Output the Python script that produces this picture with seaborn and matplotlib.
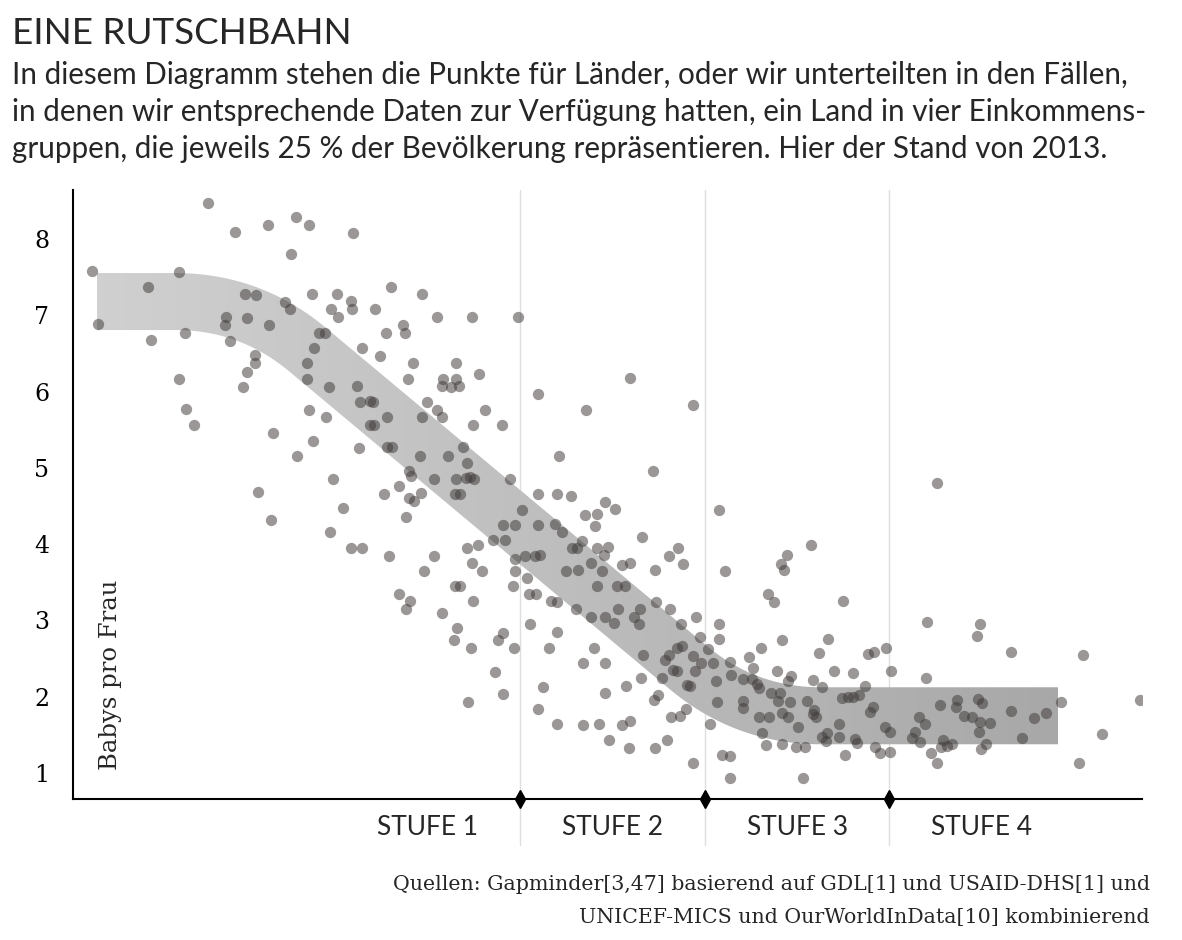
import numpy as np
import pandas as pd
import matplotlib
matplotlib.use("Agg")
import matplotlib.pyplot as plt
import seaborn as sns
from matplotlib.patches import Polygon
from matplotlib.colors import LinearSegmentedColormap

# Einkommensindex (0 = linker Achsenrand, 106.9 = rechter Rand) und Babys pro Frau
x_stufe1 = [13.5, 16.2, 19.5, 22.3, 21.8, 1.9, 10.6, 7.5, 17.2, 18.3, 21.2, 21.7, 15.3, 15.2, 17.4, 19.6,
            2.5, 7.8, 11.2, 15.7, 18.2, 18.2, 17.4, 17.0, 10.6, 11.3, 12.1, 20.0, 22.4, 18.5, 19.8,
            23.6, 28.0, 23.9, 26.4, 27.8, 25.8, 27.9, 26.5, 30.2, 31.8, 34.9, 36.4, 39.9, 44.5, 33.0,
            33.2, 31.3, 24.6, 25.2, 24.1, 28.9, 30.7, 34.0, 38.3, 40.6, 23.4, 23.4, 25.6, 28.4, 33.5,
            37.0, 38.3, 36.9, 37.8, 38.6, 28.7, 29.7, 30.0, 35.4, 36.4, 36.9, 41.2, 23.6, 25.3, 31.4,
            34.9, 29.7, 30.1, 40.0, 42.9, 24.0, 28.6, 31.4, 31.9, 34.7, 37.5, 39.0, 39.4, 33.6, 33.8,
            36.1, 38.3, 39.3, 39.7, 40.1, 43.7, 26.0, 32.6, 31.1, 33.6, 34.1, 34.8, 38.2, 38.7, 27.0,
            33.3, 25.7, 27.8, 28.9, 31.6, 36.1, 35.1, 43.0, 44.2, 42.0, 43.2, 39.4, 40.5, 39.9, 40.9,
            44.2, 44.2, 44.0, 38.2, 38.7, 32.6, 33.7, 33.3, 40.0, 36.9, 38.4, 38.1, 39.8, 43.0, 42.5,
            44.1, 42.2, 43.0, 39.5]
y_stufe1 = [8.47, 8.09, 8.18, 8.29, 7.80, 7.58, 7.57, 7.37, 7.28, 7.27, 7.17, 7.08, 6.98, 6.87, 6.96, 6.87,
            6.88, 6.67, 6.77, 6.66, 6.48, 6.37, 6.26, 6.06, 6.16, 5.77, 5.56, 5.46, 5.15, 4.68, 4.32,
            8.18, 8.08, 7.28, 7.28, 7.19, 7.08, 7.08, 6.98, 7.08, 7.37, 7.28, 6.98, 6.98, 6.98, 6.87,
            6.77, 6.77, 6.77, 6.77, 6.57, 6.57, 6.47, 6.37, 6.37, 6.23, 6.37, 6.16, 6.06, 6.07, 6.16,
            6.16, 6.16, 6.07, 6.06, 6.07, 5.86, 5.88, 5.86, 5.86, 5.76, 5.67, 5.76, 5.76, 5.67, 5.67,
            5.67, 5.56, 5.56, 5.56, 5.56, 5.35, 5.26, 5.27, 5.27, 5.15, 5.15, 5.27, 5.06, 4.96, 4.89,
            4.85, 4.85, 4.87, 4.88, 4.85, 4.85, 4.85, 4.76, 4.66, 4.61, 4.57, 4.67, 4.66, 4.66, 4.47,
            4.36, 4.16, 3.95, 3.95, 3.84, 3.84, 3.65, 4.25, 4.25, 4.05, 4.05, 3.95, 3.99, 3.75, 3.65,
            3.80, 3.65, 3.45, 3.45, 3.45, 3.35, 3.25, 3.15, 3.25, 3.10, 2.90, 2.74, 2.64, 2.83, 2.74,
            2.64, 2.32, 2.04, 1.93]

x_stufe2 = [46.5, 55.7, 51.3, 62.0, 48.6, 58.0, 46.5, 48.4, 49.8, 53.2, 54.2, 44.9, 51.2, 52.4, 52.2,
            46.5, 48.2, 48.9, 50.9, 56.9, 49.9, 50.4, 52.4, 53.5, 53.1, 45.2, 46.2, 46.7, 59.6, 60.5,
            61.0, 51.8, 49.3, 50.5, 52.9, 54.9, 55.7, 58.2, 45.4, 52.4, 54.4, 55.2, 45.6, 46.3, 47.8,
            48.4, 58.3, 59.7, 50.3, 51.8, 53.2, 54.5, 54.1, 56.1, 56.7, 56.6, 60.8, 62.3, 62.7, 45.7,
            48.4, 47.6, 52.1, 51.0, 53.2, 57.0, 59.2, 59.6, 60.4, 60.9, 62.0, 62.8, 62.2, 60.0, 60.4,
            56.8, 58.9, 61.4, 61.7, 47.0, 55.3, 53.2, 58.5, 58.1, 46.5, 61.3, 59.8, 60.7, 48.4, 51.0,
            52.6, 54.9, 55.7, 53.6, 55.6, 58.2, 59.4, 62.0]
y_stufe2 = [5.97, 6.18, 5.76, 5.82, 5.15, 4.96, 4.66, 4.66, 4.63, 4.55, 4.46, 4.45, 4.38, 4.39, 4.24,
            4.25, 4.26, 4.16, 4.04, 4.09, 3.95, 3.95, 3.95, 3.96, 3.86, 3.84, 3.84, 3.86, 3.84, 3.95,
            3.74, 3.75, 3.65, 3.66, 3.65, 3.73, 3.75, 3.66, 3.56, 3.45, 3.45, 3.45, 3.35, 3.35, 3.25,
            3.24, 3.24, 3.15, 3.15, 3.04, 3.04, 3.15, 2.97, 3.04, 3.15, 2.95, 2.95, 3.04, 2.78, 2.95,
            2.85, 2.64, 2.64, 2.44, 2.44, 2.55, 2.48, 2.55, 2.64, 2.66, 2.53, 2.44, 2.34, 2.35, 2.34,
            2.25, 2.25, 2.15, 2.14, 2.13, 2.14, 2.05, 2.02, 1.96, 1.84, 1.84, 1.73, 1.75, 1.64, 1.63,
            1.64, 1.63, 1.68, 1.43, 1.33, 1.33, 1.43, 1.13]

x_stufe3 = [64.6, 73.8, 71.4, 70.8, 71.1, 65.2, 69.5, 70.1, 77.0, 64.6, 64.6, 63.5, 68.8, 70.9, 75.5,
            74.6, 79.5, 80.1, 81.3, 64.0, 65.7, 67.6, 68.0, 65.8, 70.4, 71.8, 71.5, 76.1, 78.0, 64.3,
            67.0, 67.9, 68.4, 68.6, 74.0, 74.9, 79.2, 69.8, 70.7, 70.5, 71.7, 73.4, 76.9, 77.5, 78.0,
            78.6, 64.4, 67.0, 67.0, 80.0, 79.7, 74.1, 74.0, 74.3, 70.9, 71.5, 68.6, 69.6, 72.5, 76.6,
            63.7, 68.9, 75.4, 74.9, 76.6, 78.2, 78.4, 81.2, 69.3, 70.9, 72.3, 73.2, 75.3, 80.2, 80.7,
            64.9, 65.7, 65.7, 73.0, 77.2]
y_stufe3 = [4.45, 3.99, 3.86, 3.74, 3.66, 3.65, 3.35, 3.24, 3.25, 2.95, 2.76, 2.62, 2.64, 2.74, 2.76,
            2.57, 2.56, 2.59, 2.64, 2.44, 2.45, 2.52, 2.38, 2.28, 2.34, 2.27, 2.21, 2.34, 2.31, 2.21,
            2.23, 2.23, 2.17, 2.11, 2.22, 2.13, 2.14, 2.05, 2.05, 1.94, 1.93, 1.94, 1.98, 1.99, 1.99,
            2.02, 1.93, 1.94, 1.85, 1.87, 1.80, 1.83, 1.77, 1.73, 1.79, 1.73, 1.73, 1.73, 1.60, 1.64,
            1.64, 1.52, 1.52, 1.47, 1.47, 1.45, 1.39, 1.60, 1.37, 1.38, 1.34, 1.34, 1.42, 1.34, 1.26,
            1.24, 1.22, 0.93, 0.93, 1.24]

x_stufe4 = [81.7, 81.7, 81.8, 86.4, 85.4, 90.7, 90.4, 93.8, 101.0, 85.3, 98.8, 106.7, 86.7, 88.4, 88.3,
            90.5, 90.9, 93.8, 97.3, 96.1, 84.6, 85.2, 89.1, 89.9, 90.7, 91.7, 90.6, 84.2, 83.9, 84.7,
            87.0, 87.9, 87.4, 86.8, 91.3, 90.8, 94.9, 102.9, 85.8, 86.4, 100.6]
y_stufe4 = [1.54, 1.28, 2.34, 4.80, 2.98, 2.95, 2.80, 2.59, 2.55, 2.25, 1.93, 1.96, 1.89, 1.96, 1.87,
            1.97, 1.92, 1.81, 1.79, 1.72, 1.73, 1.64, 1.75, 1.73, 1.67, 1.66, 1.54, 1.54, 1.46, 1.41,
            1.43, 1.38, 1.35, 1.34, 1.38, 1.31, 1.46, 1.51, 1.26, 1.13, 1.13]

stufen_grenzen = [44.7, 63.2, 81.6]
stufen_namen = ["STUFE 1", "STUFE 2", "STUFE 3", "STUFE 4"]
y_ticks = [1, 2, 3, 4, 5, 6, 7, 8]

# Knotenpunkte der Rutschbahn (Mittellinie)
band_x = [2.4, 17.7, 67.3, 98.5]
band_y = [7.18, 7.18, 1.75, 1.75]

x_lim = (0, 106.9)
y_lim = (0.659, 8.642)

df = pd.DataFrame({
    "einkommen": x_stufe1 + x_stufe2 + x_stufe3 + x_stufe4,
    "babys": y_stufe1 + y_stufe2 + y_stufe3 + y_stufe4,
})

sns.set_style("white")
plt.rcParams["font.family"] = ["DejaVu Serif"]
sans = ["Lato", "DejaVu Sans"]

fig = plt.figure(figsize=(11.82, 9.40), dpi=100)
ax = fig.add_axes([73 / 1182, 141 / 940, 1069 / 1182, 609 / 940])
ax.set_xlim(*x_lim)
ax.set_ylim(*y_lim)


def rutschbahn_umriss(ax, xs, ys, halbe_breite=28.5, radius=75):
    # Mittellinie in Pixeln, Ecken mit Bezierkurven abrunden, dann seitlich versetzen
    p = ax.transData.transform(np.column_stack([xs, ys]))
    kurve = [p[0]]
    t = np.linspace(0, 1, 40)[:, None]
    for i in range(1, len(p) - 1):
        a, b, c = p[i - 1], p[i], p[i + 1]
        d1 = (b - a) / np.linalg.norm(b - a)
        d2 = (c - b) / np.linalg.norm(c - b)
        s, e = b - d1 * radius, b + d2 * radius
        kurve.extend((1 - t) ** 2 * s + 2 * (1 - t) * t * b + t ** 2 * e)
    kurve.append(p[-1])
    kurve = np.array(kurve)
    tang = np.gradient(kurve, axis=0)
    tang /= np.linalg.norm(tang, axis=1)[:, None]
    norm = np.column_stack([-tang[:, 1], tang[:, 0]])
    oben = kurve + norm * halbe_breite
    unten = kurve - norm * halbe_breite
    poly = np.vstack([oben, unten[::-1]])
    return ax.transData.inverted().transform(poly)


umriss = rutschbahn_umriss(ax, band_x, band_y)
cmap = LinearSegmentedColormap.from_list("band", ["#d0d0d0", "#bdbdbd", "#a8a8a8"])
im = ax.imshow(np.linspace(0, 1, 256)[None, :], extent=(band_x[0], band_x[-1], y_lim[0], y_lim[1]),
               aspect="auto", cmap=cmap, origin="lower", zorder=1, interpolation="bilinear")
patch = Polygon(umriss, closed=True, facecolor="none", edgecolor="none")
ax.add_patch(patch)
im.set_clip_path(patch)
ax.set_xlim(*x_lim)
ax.set_ylim(*y_lim)

for g in stufen_grenzen:
    ax.axvline(g, ymin=-0.0755, ymax=1, color="#dedede", lw=1, zorder=0, clip_on=False)

sns.scatterplot(data=df, x="einkommen", y="babys", color="#403b3a", alpha=0.53, s=66,
                linewidth=0, ax=ax, zorder=3)

ax.plot(stufen_grenzen, [y_lim[0]] * len(stufen_grenzen), linestyle="none", marker="d",
        markersize=8.7, color="black", clip_on=False, zorder=6)

sns.despine(ax=ax)
for side in ["left", "bottom"]:
    ax.spines[side].set_linewidth(1.5)
    ax.spines[side].set_color("black")
ax.set_xticks([])
ax.set_yticks(y_ticks)
ax.set_yticklabels([str(v) for v in y_ticks], fontsize=17)
ax.tick_params(axis="y", length=7, width=1.2, pad=10, colors="black")
ax.set_xlabel("")
ax.set_ylabel("")

ax.text(3.8, 1.04, "Babys pro Frau", rotation=90, ha="center", va="bottom", fontsize=17.5)

breite = stufen_grenzen[1] - stufen_grenzen[0]
mitten = [stufen_grenzen[0] - breite / 2] + [g + breite / 2 for g in stufen_grenzen]
for m, name in zip(mitten, stufen_namen):
    ax.text(m, -0.046, name, transform=ax.get_xaxis_transform(), ha="center", va="center",
            fontsize=19, family=sans)

fig.text(12 / 1182, 1 - 44 / 940, "EINE RUTSCHBAHN", fontsize=26.5, family=sans, va="baseline")
untertitel = [
    "In diesem Diagramm stehen die Punkte für Länder, oder wir unterteilten in den Fällen,",
    "in denen wir entsprechende Daten zur Verfügung hatten, ein Land in vier Einkommens-",
    "gruppen, die jeweils 25 % der Bevölkerung repräsentieren. Hier der Stand von 2013.",
]
for i, zeile in enumerate(untertitel):
    fig.text(12 / 1182, 1 - (84 + 37 * i) / 940, zeile, fontsize=21.3, family=sans, va="baseline")

quelle = [
    "Quellen: Gapminder[3,47] basierend auf GDL[1] und USAID-DHS[1] und",
    "UNICEF-MICS und OurWorldInData[10] kombinierend",
]
for i, zeile in enumerate(quelle):
    fig.text(1150 / 1182, 1 - (884 + 33 * i) / 940, zeile, fontsize=14.8, ha="right", va="center")

fig.savefig("out.png", dpi=100)
